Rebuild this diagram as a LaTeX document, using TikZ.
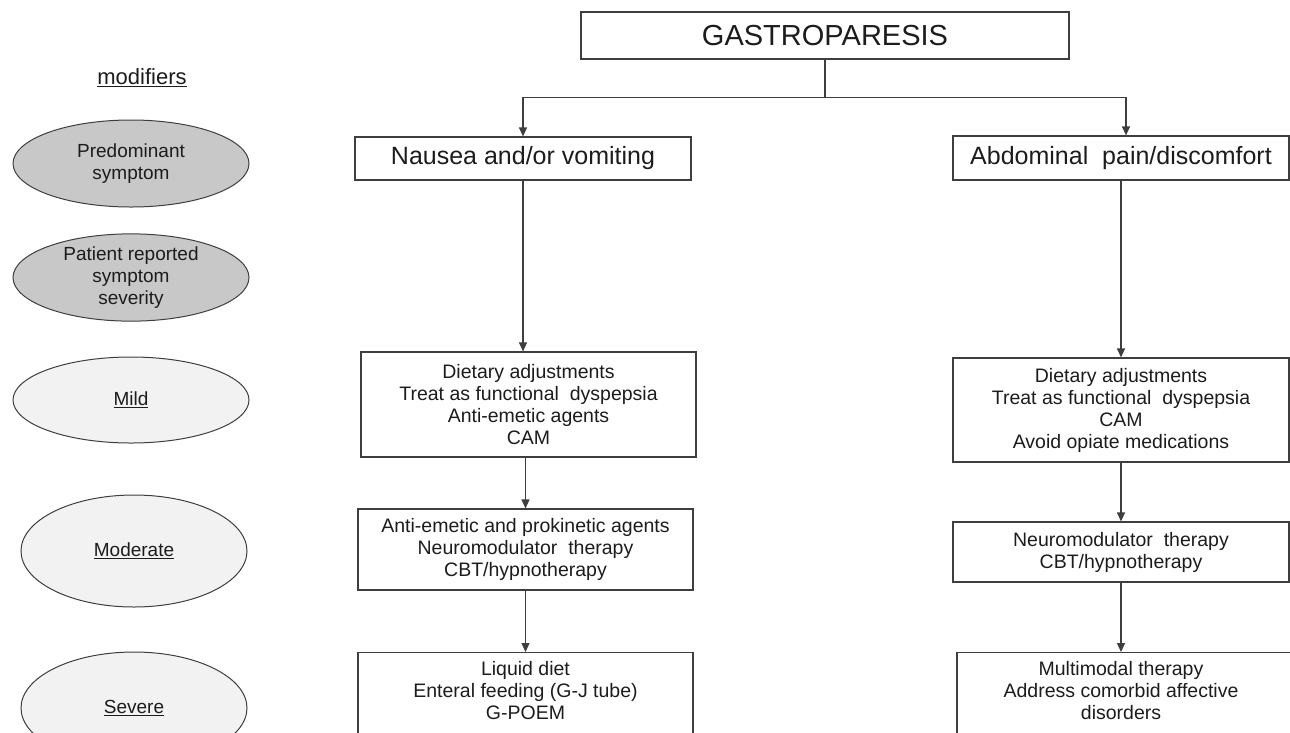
\documentclass[tikz,border=0pt]{standalone}
\usepackage{fontspec}
\setmainfont{Liberation Sans}
\usetikzlibrary{arrows.meta,shapes.geometric}

\definecolor{linegray}{RGB}{62,62,62}
\definecolor{textgray}{RGB}{28,28,28}
\definecolor{darkfill}{RGB}{200,200,200}
\definecolor{lightfill}{RGB}{242,242,242}

\newcommand{\titlefont}{\fontsize{29}{33}\selectfont}
\newcommand{\headfont}{\fontsize{25}{29}\selectfont}
\newcommand{\boxfont}{\fontsize{19.5}{22}\selectfont}
\newcommand{\modfont}{\fontsize{19}{22}\selectfont}
\newcommand{\labelfont}{\fontsize{22}{26}\selectfont}

\begin{document}
\begin{tikzpicture}[x=1pt,y=-1pt]
	\tikzstyle{comp} = [
		rectangle, draw=linegray, line width=1.2pt, text=textgray, align=center
	]
	\tikzstyle{header} = [
		comp, minimum width=336pt, font=\headfont
	]
	\tikzstyle{therapy} = [
		comp, minimum width=335pt, font=\boxfont
	]
	\tikzstyle{modif} = [
		ellipse, draw=linegray, line width=1pt, fill=lightfill, text=textgray,
		align=center, inner sep=0pt, font=\modfont
	]
	\tikzstyle{modifdark} = [
		modif, fill=darkfill
	]
	\tikzstyle{conn} = [
		draw=linegray, line width=1.2pt, -{Triangle[length=9pt,width=8pt]}
	]

	\useasboundingbox (0,0) rectangle (1290,732);
	\clip (0,0) rectangle (1290,732);

	% Title
	\node (title) [comp, minimum width=488pt, minimum height=47pt, font=\titlefont] at (825,35.5) {GASTROPARESIS};

	% Predominant symptom
	\node (nausea) [header, minimum height=43pt] at (523,158.5) {Nausea and/or vomiting};
	\node (abdominal) [header, minimum height=44pt] at (1121,158) {Abdominal\ \ pain/discomfort};

	% Nausea / vomiting
	\node (mildL) [therapy, minimum height=105pt] at (528.5,404.5)
		{Dietary adjustments\\Treat as functional\ \ dyspepsia\\Anti-emetic agents\\CAM};
	\node (modL) [therapy, minimum height=81pt] at (525.5,549.5)
		{Anti-emetic and prokinetic agents\\Neuromodulator\ \ therapy\\CBT/hypnotherapy};
	\node (sevL) [therapy, anchor=north, minimum height=130pt] at (525.5,652) {};
	\node (sevLtext) [anchor=north, inner sep=0pt, align=center, text=textgray, font=\boxfont] at ([yshift=-9pt]sevL.north)
		{Liquid diet\\Enteral feeding (G-J tube)\\G-POEM};

	% Abdominal pain / discomfort
	\node (mildR) [therapy, minimum width=336pt, minimum height=104pt] at (1121,410)
		{Dietary adjustments\\Treat as functional\ \ dyspepsia\\CAM\\Avoid opiate medications};
	\node (modR) [therapy, minimum width=336pt, minimum height=60pt] at (1121,552)
		{Neuromodulator\ \ therapy\\CBT/hypnotherapy};
	\node (sevR) [therapy, anchor=north, minimum height=130pt] at (1124.5,652) {};
	\node (sevRtext) [anchor=north, inner sep=0pt, align=center, text=textgray, font=\boxfont] at ([yshift=-9pt, xshift=-3.5pt]sevR.north)
		{Multimodal therapy\\Address comorbid affective\\disorders};

	% Modifiers
	\node (modifiers) [text=textgray, font=\labelfont] at (142,78) {\underline{modifiers}};
	\node (predom) [modifdark, minimum width=236pt, minimum height=87pt] at (131,163.5) {Predominant\\symptom};
	\node (severity) [modifdark, minimum width=236pt, minimum height=85pt] at (131,277.5) {Patient reported\\symptom\\severity};
	\node (mild) [modif, minimum width=236pt, minimum height=86pt] at (131,400) {\underline{Mild}};
	\node (moderate) [modif, minimum width=226pt, minimum height=112pt] at (134,551) {\underline{Moderate}};
	\node (severe) [modif, minimum width=226pt, minimum height=112pt] at (134,708) {\underline{Severe}};

	% Title -> symptoms
	\coordinate (split) at ([yshift=-38pt]title.south);
	\draw[conn] (title.south) -- (split) -| (nausea.north);
	\draw[conn] (split) -| ([xshift=5pt]abdominal.north);

	% Nausea chain
	\draw[conn] (nausea.south) -- (nausea.south |- mildL.north);
	\draw[conn] (modL.north |- mildL.south) -- (modL.north);
	\draw[conn] (modL.south) -- (sevL.north);

	% Abdominal chain
	\draw[conn] (abdominal.south) -- (mildR.north);
	\draw[conn] (mildR.south) -- (modR.north);
	\draw[conn] (modR.south) -- (modR.south |- sevR.north);
\end{tikzpicture}
\end{document}
